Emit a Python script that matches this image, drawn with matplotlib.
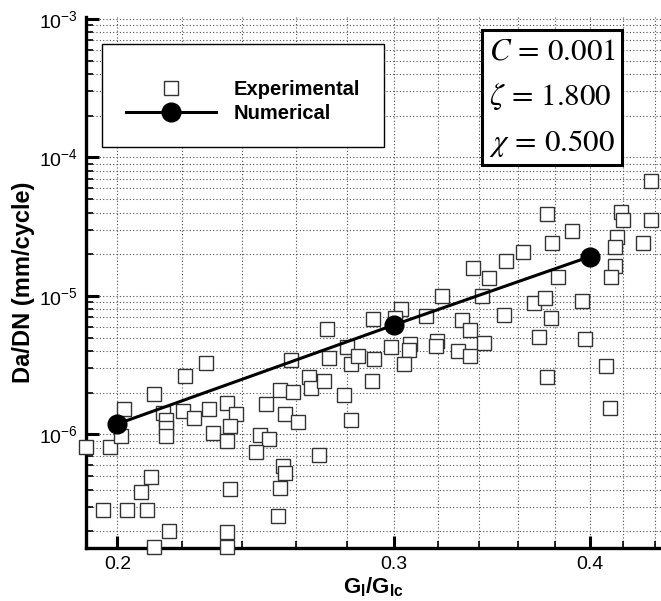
import matplotlib
matplotlib.use('Agg')
import matplotlib.pyplot as plt
from matplotlib.ticker import LogLocator, FixedLocator, FixedFormatter, NullFormatter

plt.rcParams['font.family'] = ['Liberation Sans', 'DejaVu Sans']
plt.rcParams['mathtext.fontset'] = 'custom'
plt.rcParams['mathtext.rm'] = 'Liberation Sans'
plt.rcParams['mathtext.it'] = 'Liberation Sans:italic'
plt.rcParams['mathtext.bf'] = 'Liberation Sans:bold'

# experimental points (G/Gc, da/dN)
exp_g = [0.1910, 0.1979, 0.2010, 0.2020, 0.2109, 0.2139, 0.2148, 0.2148, 0.2149,
         0.2209, 0.2201, 0.2239, 0.2278, 0.2289, 0.2300, 0.2350, 0.2380, 0.2360,
         0.2350, 0.2489, 0.2466, 0.2499, 0.2451, 0.2540, 0.2590, 0.2559, 0.2609,
         0.2579, 0.2649, 0.2658, 0.2709, 0.2720, 0.2730, 0.2790, 0.2819, 0.2801,
         0.2819, 0.2849, 0.2910, 0.2916, 0.2908, 0.2688, 0.2549, 0.2558, 0.2540,
         0.2530, 0.2360, 0.2349, 0.2349, 0.2159, 0.2109, 0.2101, 0.2070, 0.1959,
         0.2029, 0.2089,
         0.4379, 0.3757, 0.4186, 0.4198, 0.4379, 0.3898, 0.4166, 0.4155, 0.4326,
         0.3787, 0.3627, 0.3540, 0.3369, 0.3449, 0.3819, 0.4155, 0.4129, 0.3219,
         0.3417, 0.3688, 0.3748, 0.3957, 0.3031, 0.3007, 0.3148, 0.3527, 0.3777,
         0.3319, 0.3357, 0.3428, 0.3299, 0.3358, 0.3716, 0.3976, 0.2989, 0.3071,
         0.3070, 0.3196, 0.3191, 0.3048, 0.3757, 0.4095, 0.4119]
exp_dadn = [8.14e-7, 8.14e-7, 9.72e-7, 1.52e-6, 1.95e-6, 1.43e-6, 1.27e-6, 1.11e-6, 9.72e-7,
            2.64e-6, 1.47e-6, 1.31e-6, 3.26e-6, 1.52e-6, 1.02e-6, 1.68e-6, 1.40e-6, 1.15e-6,
            9.02e-7, 1.66e-6, 9.88e-7, 9.20e-7, 7.45e-7, 2.11e-6, 2.02e-6, 1.40e-6, 1.23e-6,
            3.44e-6, 2.61e-6, 2.15e-6, 2.42e-6, 5.74e-6, 3.58e-6, 1.92e-6, 1.28e-6, 4.30e-6,
            3.22e-6, 3.68e-6, 6.81e-6, 3.53e-6, 2.43e-6, 7.09e-7, 5.95e-7, 5.23e-7, 4.07e-7,
            2.58e-7, 4.01e-7, 1.98e-7, 1.55e-7, 2.02e-7, 1.55e-7, 4.89e-7, 3.81e-7, 2.84e-7,
            2.86e-7, 2.84e-7,
            6.76e-5, 3.89e-5, 4.04e-5, 3.51e-5, 3.51e-5, 2.94e-5, 2.65e-5, 2.27e-5, 2.40e-5,
            2.40e-5, 2.09e-5, 1.80e-5, 1.60e-5, 1.35e-5, 1.38e-5, 1.64e-5, 1.37e-5, 9.98e-6,
            9.98e-6, 8.93e-6, 9.61e-6, 9.26e-6, 8.00e-6, 6.89e-6, 7.12e-6, 7.28e-6, 6.89e-6,
            6.70e-6, 5.64e-6, 4.54e-6, 4.00e-6, 3.69e-6, 5.07e-6, 4.87e-6, 4.25e-6, 4.53e-6,
            4.10e-6, 4.70e-6, 4.36e-6, 3.22e-6, 2.61e-6, 3.12e-6, 1.56e-6]

# numerical prediction
num_g = [0.2, 0.3, 0.4]
num_dadn = [1.19e-6, 6.16e-6, 1.92e-5]

x_major = [0.2, 0.3, 0.4]
x_labels = ['0.2', '0.3', '0.4']
x_minor = [0.22, 0.24, 0.26, 0.28, 0.32, 0.34, 0.36, 0.38, 0.42, 0.44]

fig = plt.figure(figsize=(6.61, 6.01), dpi=100)
ax = fig.add_axes([86 / 661, (601 - 547.7) / 601, (661 - 86) / 661, (547.7 - 16.7) / 601])
ax.set_xscale('log')
ax.set_yscale('log')

ax.plot(exp_g, exp_dadn, ls='none', marker='s', ms=9.6, mfc='white', mec='0.2',
        mew=1.0, clip_on=False, zorder=3, label='Experimental')
ax.plot(num_g, num_dadn, color='black', lw=2.2, marker='o', ms=13.5, mfc='black',
        mec='black', clip_on=False, zorder=4, label='Numerical')

ax.set_xlim(0.191, 0.4442)
ax.set_ylim(1.52e-7, 1.039e-3)

ax.xaxis.set_major_locator(FixedLocator(x_major))
ax.xaxis.set_minor_locator(FixedLocator(x_minor))
ax.xaxis.set_major_formatter(FixedFormatter(x_labels))
ax.xaxis.set_minor_formatter(NullFormatter())
ax.yaxis.set_major_locator(LogLocator(base=10, numticks=10))
ax.yaxis.set_minor_locator(LogLocator(base=10, subs=range(2, 10), numticks=10))
ax.yaxis.set_minor_formatter(NullFormatter())

ax.grid(True, which='both', color='0.3', ls=(0, (1, 2)), lw=0.8)
ax.set_axisbelow(True)

for s in ('top', 'right'):
    ax.spines[s].set_visible(False)
for s in ('left', 'bottom'):
    ax.spines[s].set_linewidth(2.4)

ax.tick_params(which='major', direction='in', length=9, width=2.2, labelsize=14, pad=6)
ax.tick_params(which='minor', direction='in', length=5, width=1.2)
ax.tick_params(top=False, right=False)

ax.set_xlabel(r'$\mathbf{G_I/G_{Ic}}$', fontsize=16, labelpad=2)
ax.set_ylabel('Da/DN (mm/cycle)', fontsize=17, fontweight='bold', labelpad=3)

leg = ax.legend(loc='upper left', bbox_to_anchor=(0.0273, 0.9486), borderaxespad=0,
                prop={'weight': 'bold', 'size': 14.5}, handlelength=4.5, handletextpad=0.85,
                labelspacing=0.25, borderpad=1.2, fancybox=False, framealpha=1,
                edgecolor='black', title=' ', title_fontsize=5)
leg.get_frame().set_linewidth(1.0)

ax.text(0.7003, 0.9635, '$C\\,=\\,0.001$\n$\\zeta\\,=\\,1.800$\n$\\chi\\,=\\,0.500$',
        transform=ax.transAxes, ha='left', va='top', fontsize=22.3, math_fontfamily='stix',
        linespacing=1.68, zorder=5,
        bbox=dict(boxstyle='square,pad=0.22', fc='white', ec='black', lw=2.2))

fig.savefig('out.png', dpi=100)
